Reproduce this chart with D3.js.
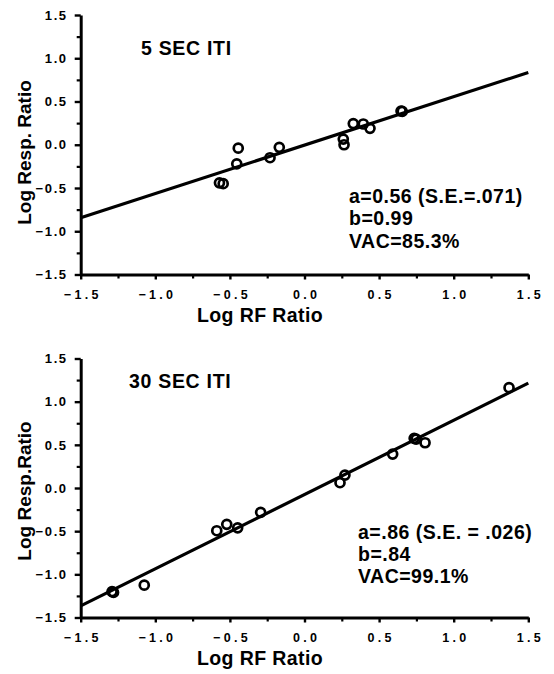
<!DOCTYPE html>
<html>
<head>
<meta charset="utf-8">
<script src="https://cdn.jsdelivr.net/npm/d3@7"></script>
<style>
  html, body { margin: 0; padding: 0; background: #fff; }
  svg { display: block; }
  text { font-family: "Liberation Sans", Arial, Helvetica, sans-serif; font-weight: bold; fill: #000; }
</style>
</head>
<body>
<svg id="chart" width="554" height="674"></svg>
<script>
// ---- data ----
const axisMajorTicks = [-1.5, -1.0, -0.5, 0.0, 0.5, 1.0, 1.5];
const axisMinorTicks = [-1.25, -0.75, -0.25, 0.25, 0.75, 1.25];
const xTitle = "Log RF Ratio";
const yTitles = ["Log Resp. Ratio", "Log Resp.Ratio"];
const panelTitles = ["5 SEC ITI", "30 SEC ITI"];

// 5 sec ITI: log reinforcement ratio vs log response ratio
const iti5X = [-0.57, -0.545, -0.444, -0.454, -0.231, -0.169, 0.26, 0.265, 0.327, 0.394, 0.439, 0.647, 0.655];
const iti5Y = [-0.44, -0.45, -0.04, -0.22, -0.15, -0.03, 0.066, 0.0, 0.245, 0.24, 0.19, 0.39, 0.385];
// 30 sec ITI
const iti30X = [-1.29, -1.28, -1.074, -0.588, -0.521, -0.448, -0.294, 0.238, 0.271, 0.591, 0.735, 0.748, 0.808, 1.371];
const iti30Y = [-1.2, -1.21, -1.125, -0.495, -0.421, -0.461, -0.282, 0.061, 0.15, 0.393, 0.575, 0.565, 0.524, 1.162];

// fitted generalized-matching lines: log(B1/B2) = a*log(R1/R2) + log b
const slopeA = [0.56, 0.86];
const biasB = [0.99, 0.84];

const statLines5 = ["a=0.56 (S.E.=.071)", "b=0.99", "VAC=85.3%"];
const statLines30 = ["a=.86 (S.E. = .026)", "b=.84", "VAC=99.1%"];

// ---- drawing ----
const svg = d3.select("#chart");

const panels = [
  { top: 15, bottom: 274.5, xs: iti5X, ys: iti5Y, a: slopeA[0], b: biasB[0], stats: statLines5,
    title: panelTitles[0], titleX: 141, titleY: 55, statX: 349, statY: 203,
    yTitle: yTitles[0], yTitleCY: 152.5, xTitleY: 321.5 },
  { top: 358.5, bottom: 617.5, xs: iti30X, ys: iti30Y, a: slopeA[1], b: biasB[1], stats: statLines30,
    title: panelTitles[1], titleX: 129, titleY: 388, statX: 358, statY: 538.5,
    yTitle: yTitles[1], yTitleCY: 491, xTitleY: 665 }
];

const left = 80.7, right = 528.3;
const fam = "'Liberation Sans', Arial, sans-serif";

panels.forEach(p => {
  const x = d3.scaleLinear().domain([-1.5, 1.5]).range([left, right]);
  const y = d3.scaleLinear().domain([-1.5, 1.5]).range([p.bottom, p.top]);
  const g = svg.append("g");

  // minor ticks
  g.append("g").attr("transform", `translate(0,${p.bottom})`)
    .call(d3.axisBottom(x).tickValues(axisMinorTicks).tickSize(4).tickSizeOuter(0).tickFormat(""))
    .call(s => s.select(".domain").remove())
    .call(s => s.selectAll("line").attr("stroke", "#000").attr("stroke-width", 2.2));
  g.append("g").attr("transform", `translate(${left},0)`)
    .call(d3.axisLeft(y).tickValues(axisMinorTicks).tickSize(4).tickSizeOuter(0).tickFormat(""))
    .call(s => s.select(".domain").remove())
    .call(s => s.selectAll("line").attr("stroke", "#000").attr("stroke-width", 2.2));

  // major x axis
  const xa = g.append("g").attr("transform", `translate(0,${p.bottom})`)
    .call(d3.axisBottom(x).tickValues(axisMajorTicks).tickSize(5).tickSizeOuter(0).tickPadding(11)
      .tickFormat(d3.format(".1f")));
  xa.select(".domain").attr("stroke", "#000").attr("stroke-width", 3);
  xa.selectAll("line").attr("stroke", "#000").attr("stroke-width", 2.4);
  xa.selectAll("text").attr("font-size", 12.5).attr("letter-spacing", "3.3px").attr("dx", "1.6px")
    .attr("font-family", fam).attr("font-weight", "bold").attr("fill", "#000");

  // major y axis
  const ya = g.append("g").attr("transform", `translate(${left},0)`)
    .call(d3.axisLeft(y).tickValues(axisMajorTicks).tickSize(6).tickSizeOuter(0).tickPadding(7)
      .tickFormat(d3.format(".1f")));
  ya.select(".domain").attr("stroke", "#000").attr("stroke-width", 3);
  ya.selectAll("line").attr("stroke", "#000").attr("stroke-width", 2.4);
  ya.selectAll("text").attr("font-size", 13).attr("letter-spacing", "1.6px")
    .attr("font-family", fam).attr("font-weight", "bold").attr("fill", "#000");

  // fitted line
  const logB = Math.log10(p.b);
  const ends = x.domain();
  g.append("path")
    .datum(ends)
    .attr("d", d3.line().x(d => x(d)).y(d => y(p.a * d + logB)))
    .attr("fill", "none").attr("stroke", "#000").attr("stroke-width", 3.2);

  // points
  g.selectAll("circle.pt").data(p.xs.map((v, i) => [v, p.ys[i]]))
    .join("circle").attr("class", "pt")
    .attr("cx", d => x(d[0])).attr("cy", d => y(d[1])).attr("r", 4.5)
    .attr("fill", "none").attr("stroke", "#000").attr("stroke-width", 2.7);

  // panel title
  g.append("text").attr("x", p.titleX).attr("y", p.titleY).attr("font-size", 19.5)
    .attr("letter-spacing", "0.7px").text(p.title);

  // stats
  g.selectAll("text.stat").data(p.stats).join("text").attr("class", "stat")
    .attr("x", p.statX).attr("y", (d, i) => p.statY + i * 22.3)
    .attr("font-size", 19.5).attr("letter-spacing", "0.5px").text(d => d);

  // axis titles
  g.append("text").attr("x", 260).attr("y", p.xTitleY).attr("text-anchor", "middle")
    .attr("font-size", 19.5).attr("letter-spacing", "0.4px").text(xTitle);
  g.append("text").attr("transform", `translate(30.5,${p.yTitleCY}) rotate(-90)`)
    .attr("text-anchor", "middle").attr("font-size", 19).text(p.yTitle);
});
</script>
</body>
</html>
